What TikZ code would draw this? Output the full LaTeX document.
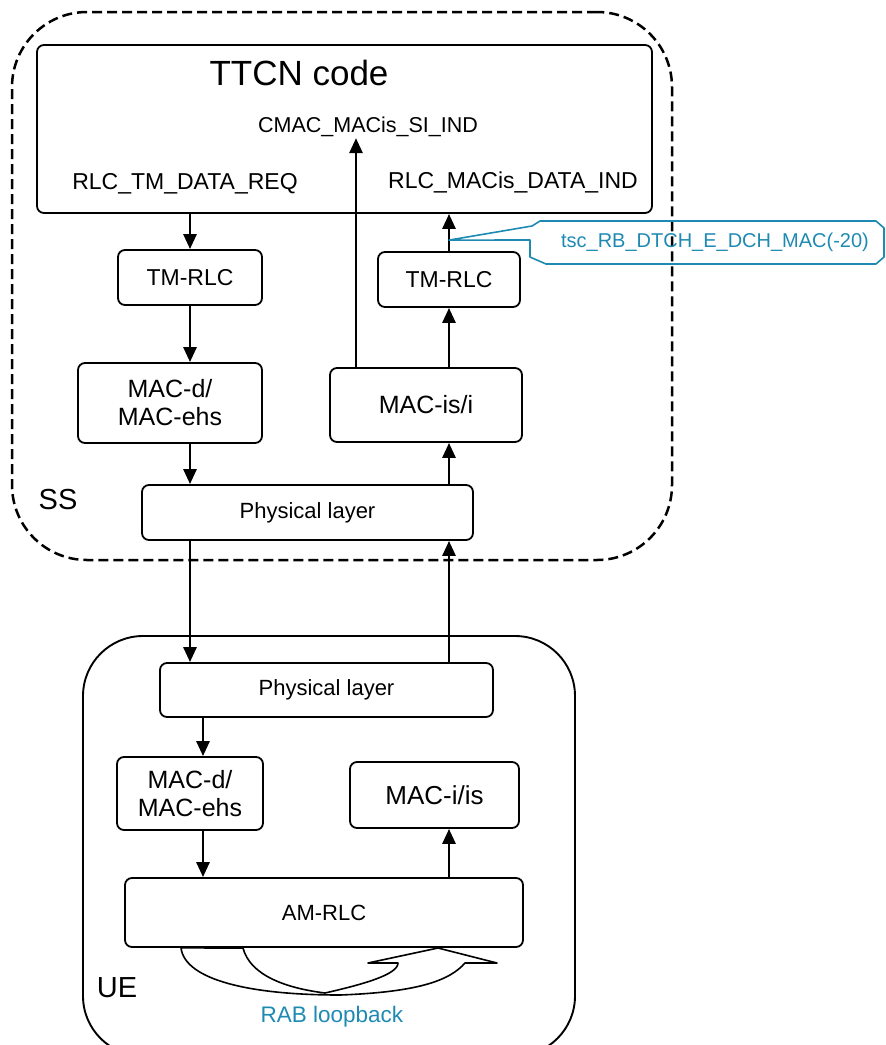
\documentclass[tikz,border=0pt]{standalone}
\usepackage{fontspec}
\setmainfont{Liberation Sans}
\usetikzlibrary{arrows.meta,positioning}
\definecolor{tscblue}{RGB}{30,138,178}

\begin{document}
\begin{tikzpicture}[x=1pt,y=-1pt,
  blk/.style={draw, rounded corners=7pt, line width=1.8pt, align=center, inner sep=0pt, font=\fontsize{25}{28}\selectfont},
  arr/.style={-{Triangle[length=15pt,width=13pt]}, line width=2.8pt},
  lbl/.style={inner sep=1pt, font=\fontsize{21.5}{26}\selectfont},
  big/.style={inner sep=1pt, font=\fontsize{29}{34}\selectfont}]
  \useasboundingbox (0,0) rectangle (886,1045);

  \node[draw, dash pattern=on 10pt off 5pt, line width=2.5pt, rounded corners=75pt, minimum width=660, minimum height=548] (ss) at (342,286) {};
  \node[draw, line width=1.9pt, rounded corners=60pt, minimum width=492, minimum height=420] (ue) at (329,846) {};
  \node[big] (sslbl) at (58,500) {SS};
  \node[big] (uelbl) at (117,988) {UE};

  \node[blk, minimum width=615, minimum height=168] (ttcn) at (344.5,129) {};
  \node[inner sep=1pt, font=\fontsize{35}{40}\selectfont] (ttl) at (299,73) {TTCN code};
  \node[lbl] (cmac) at (368,127) {CMAC\_MACis\_SI\_IND};
  \node[lbl, font=\fontsize{23}{26}\selectfont] (req) at (185,184) {RLC\_TM\_DATA\_REQ};
  \node[lbl, font=\fontsize{23}{26}\selectfont] (ind) at (513,182) {RLC\_MACis\_DATA\_IND};

  \node[blk, minimum width=144, minimum height=55, font=\fontsize{23}{26}\selectfont] (tmL) at (190,277.5) {TM-RLC};
  \node[blk, minimum width=142, minimum height=55, font=\fontsize{23}{26}\selectfont] (tmR) at (449,279.5) {TM-RLC};
  \node[blk, minimum width=184, minimum height=80] (macdL) at (170,403) {MAC-d/\\MAC-ehs};
  \node[blk, minimum width=192, minimum height=74] (macisR) at (426,405) {MAC-is/i};
  \node[blk, minimum width=331, minimum height=55, font=\fontsize{22}{24}\selectfont] (physS) at (307.5,512.5) {Physical layer};

  \node[blk, minimum width=333, minimum height=54, font=\fontsize{22}{24}\selectfont] (physU) at (326.5,690) {Physical layer};
  \node[blk, minimum width=146, minimum height=73] (macdU) at (190,793.5) {MAC-d/\\MAC-ehs};
  \node[blk, minimum width=169, minimum height=66, font=\fontsize{26}{28}\selectfont] (maciU) at (434.5,795) {MAC-i/is};
  \node[blk, minimum width=398, minimum height=69, font=\fontsize{22}{24}\selectfont] (amrlc) at (324,912.5) {AM-RLC};

  \coordinate (up) at ([xshift=-70pt]macisR.north);
  \coordinate (dn) at ([xshift=13pt]macdU.north);
  \coordinate (tip) at ([yshift=11pt]tmR.north);

  \draw[arr] (ttcn.south -| tmL.north) -- (tmL.north);
  \draw[arr] (tmL.south) -- (tmL.south |- macdL.north);
  \draw[arr] (tmL.south |- macdL.south) -- (tmL.south |- physS.north);
  \draw[arr] (tmL.south |- physS.south) -- (tmL.south |- physU.north);
  \draw[arr] (dn |- physU.south) -- (dn);
  \draw[arr] (dn |- macdU.south) -- (dn |- amrlc.north);
  \draw[arr] (tmR.south |- amrlc.north) -- (tmR.south |- maciU.south);
  \draw[arr] (tmR.south |- physU.north) -- (tmR.south |- physS.south);
  \draw[arr] (tmR.south |- physS.north) -- (tmR.south |- macisR.south);
  \draw[arr] (tmR.south |- macisR.north) -- (tmR.south);
  \draw[arr] (tmR.north) -- (tmR.north |- ttcn.south);
  \draw[arr] (up) -- (up |- cmac.south);

  \draw[tscblue, line width=1.6pt, line join=round] (tip) -- (532,226) -- (540,221) -- (876,221) -- (884,228) -- (884,257) -- (876,264) -- (546,264) -- (530,257) -- (530,240) -- cycle;
  \node[inner sep=1pt, text=tscblue, font=\fontsize{20}{24}\selectfont] (tsc) at (715,242) {tsc\_RB\_DTCH\_E\_DCH\_MAC(-20)};

  \draw[line width=1.6pt, line join=round] (amrlc.south -| 181,0) -- (243,948) .. controls (250,975) and (285,988) .. (325,993) .. controls (360,985) and (398,975) .. (398,963) -- (368,963) -- (438,948) -- (497,963) -- (465,963) .. controls (450,980) and (420,992) .. (340,995) .. controls (250,995) and (185,980) .. cycle;
  \node[inner sep=1pt, text=tscblue, font=\fontsize{22.5}{26}\selectfont] (rab) at (332,1017) {RAB loopback};
\end{tikzpicture}
\end{document}
